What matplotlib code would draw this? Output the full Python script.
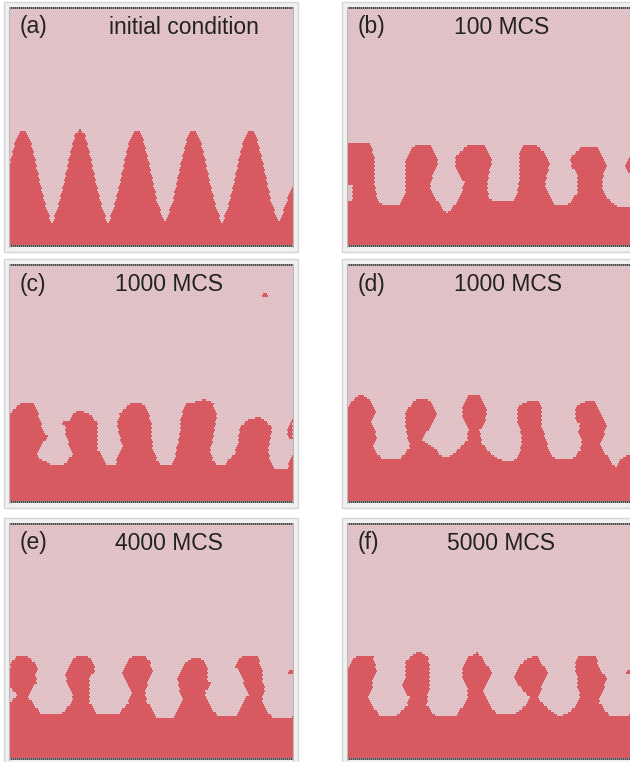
import numpy as np
import matplotlib
matplotlib.use("Agg")
import matplotlib.pyplot as plt
from matplotlib.path import Path
from matplotlib.colors import ListedColormap
from matplotlib.patches import Rectangle

plt.rcParams["font.family"] = ["Liberation Sans", "DejaVu Sans"]

panel_tags = ["(a)", "(b)", "(c)", "(d)", "(e)", "(f)"]
panel_titles = ["initial condition", "100 MCS", "1000 MCS", "1000 MCS", "4000 MCS", "5000 MCS"]

# Interface outlines (x along the wall, y above the substrate), lattice pixel units.
front_a = [(0, 79), (4, 97), (9, 113), (14, 118), (19, 113), (24, 97), (29, 74), (35, 47), (43, 23),
           (51, 47), (57, 74), (62, 97), (66, 113), (71, 118), (76, 113), (80, 97), (85, 74), (91, 47), (99, 23),
           (107, 47), (113, 74), (118, 97), (123, 113), (128, 118), (133, 113), (137, 97), (142, 74), (148, 47), (156, 23),
           (164, 47), (170, 74), (175, 97), (179, 113), (184, 118), (189, 113), (194, 97), (199, 74), (205, 47), (213, 23),
           (221, 47), (227, 74), (232, 97), (237, 113), (242, 118), (247, 113), (251, 97), (256, 74), (262, 47), (270, 23),
           (278, 47), (284, 63)]
islands_a = []

front_b = [(0, 45), (5, 46), (5, 61), (0, 62), (0, 103), (23, 103), (25, 99), (27, 90), (28, 80), (28, 60), (30, 50),
           (33, 45), (38, 41), (52, 41), (55, 47), (58, 55), (58, 77), (59, 87), (62, 95), (68, 102), (83, 102), (88, 94),
           (91, 84), (87, 75), (83, 62), (85, 54), (90, 47), (95, 39), (100, 33), (105, 39), (110, 45), (115, 54), (117, 65),
           (112, 72), (108, 80), (108, 90), (115, 97), (120, 102), (137, 102), (142, 94), (145, 84), (142, 74), (140, 60),
           (142, 50), (147, 45), (167, 45), (170, 54), (172, 67), (173, 80), (172, 94), (177, 102), (190, 102), (197, 94),
           (203, 82), (200, 74), (198, 60), (203, 50), (208, 42), (220, 42), (225, 47), (230, 54), (230, 74), (225, 80),
           (223, 89), (228, 94), (235, 100), (250, 100), (255, 92), (260, 82), (257, 74), (255, 60), (260, 50), (267, 42),
           (272, 40), (284, 40)]
islands_b = [[(284, 72), (280, 76), (278, 82), (281, 88), (284, 90)]]

front_c = [(0, 88), (5, 94), (11, 100), (24, 100), (28, 93), (31, 83), (34, 73), (39, 66), (34, 60), (29, 51), (29, 46),
           (35, 42), (44, 38), (54, 38), (60, 44), (64, 50), (59, 61), (56, 71), (58, 76), (53, 78), (53, 81), (60, 82),
           (64, 88), (66, 91), (76, 91), (84, 86), (88, 80), (89, 63), (89, 53), (93, 46), (98, 39), (106, 38), (109, 46),
           (114, 56), (111, 66), (108, 80), (111, 90), (119, 98), (123, 100), (133, 100), (139, 93), (143, 76), (143, 63),
           (144, 53), (148, 43), (151, 38), (163, 38), (166, 45), (168, 56), (171, 70), (171, 80), (174, 93), (178, 101),
           (183, 100), (196, 104), (204, 100), (208, 88), (206, 76), (203, 60), (201, 50), (204, 43), (208, 38), (216, 38),
           (219, 43), (226, 50), (229, 60), (231, 76), (239, 83), (249, 86), (256, 83), (263, 75), (261, 63), (259, 50),
           (263, 40), (266, 34), (278, 34), (281, 43), (284, 50)]
islands_c = [[(284, 62), (278, 66), (279, 74), (281, 81), (284, 83)],
             [(254, 205), (258, 205), (258, 209), (254, 209)]]

front_d = [(0, 90), (3, 100), (10, 107), (18, 107), (25, 101), (29, 93), (25, 81), (28, 75), (30, 63), (26, 56), (30, 50),
           (35, 43), (50, 43), (55, 46), (63, 56), (60, 68), (58, 80), (58, 90), (66, 101), (70, 104), (81, 104), (85, 100),
           (90, 90), (85, 80), (80, 71), (75, 63), (80, 60), (90, 53), (95, 46), (99, 45), (105, 48), (113, 55), (120, 63),
           (121, 73), (116, 83), (115, 96), (121, 107), (133, 107), (136, 103), (140, 93), (138, 81), (133, 73), (135, 60),
           (140, 53), (148, 46), (156, 43), (163, 41), (166, 41), (173, 50), (175, 63), (173, 75), (170, 83), (171, 96),
           (176, 100), (180, 101), (193, 101), (195, 93), (195, 76), (198, 66), (201, 56), (206, 46), (210, 44), (226, 44),
           (233, 53), (235, 63), (231, 71), (233, 78), (228, 85), (228, 93), (233, 100), (238, 101), (248, 101), (253, 93),
           (258, 83), (260, 76), (256, 66), (253, 60), (256, 53), (263, 43), (268, 36), (271, 38), (275, 45), (280, 48),
           (284, 48)]
islands_d = []

front_e = [(0, 57), (8, 65), (0, 73), (0, 90), (3, 98), (8, 104), (19, 104), (26, 97), (29, 90), (26, 85), (28, 78),
           (23, 72), (19, 63), (24, 57), (29, 50), (34, 45), (51, 45), (56, 50), (63, 58), (64, 65), (59, 73), (56, 85),
           (59, 93), (64, 102), (68, 104), (79, 104), (84, 98), (86, 90), (81, 82), (81, 67), (81, 57), (86, 50), (89, 45),
           (109, 45), (113, 50), (119, 57), (123, 67), (118, 75), (113, 87), (116, 93), (121, 102), (124, 104), (136, 104),
           (141, 98), (144, 87), (139, 77), (136, 68), (138, 58), (143, 52), (148, 43), (153, 41), (163, 41), (166, 45),
           (169, 52), (174, 60), (171, 68), (169, 78), (168, 83), (171, 87), (176, 97), (183, 102), (193, 101), (198, 95),
           (199, 87), (199, 78), (203, 77), (196, 68), (198, 60), (203, 52), (209, 43), (226, 43), (231, 50), (234, 57),
           (239, 65), (236, 73), (233, 83), (229, 92), (226, 93), (229, 100), (234, 104), (248, 104), (251, 97), (254, 90),
           (253, 80), (256, 70), (253, 60), (258, 50), (263, 42), (266, 41), (281, 41), (284, 45)]
islands_e = [[(280, 85), (284, 85), (284, 89), (280, 89)]]

front_f = [(0, 90), (6, 102), (13, 104), (26, 104), (28, 97), (30, 87), (26, 82), (26, 75), (23, 68), (21, 62), (26, 53),
           (33, 45), (36, 43), (48, 43), (53, 47), (60, 55), (63, 62), (58, 68), (55, 73), (58, 82), (58, 97), (63, 103),
           (71, 108), (76, 107), (81, 103), (83, 90), (83, 73), (81, 65), (80, 55), (85, 48), (90, 43), (108, 43), (113, 50),
           (120, 60), (121, 70), (116, 80), (115, 93), (120, 103), (130, 107), (135, 103), (140, 95), (145, 87), (140, 77),
           (136, 70), (140, 60), (145, 52), (150, 45), (166, 45), (173, 50), (180, 57), (183, 62), (173, 73), (166, 83),
           (171, 93), (178, 100), (185, 103), (191, 103), (196, 95), (201, 87), (196, 77), (193, 67), (190, 62), (196, 57),
           (203, 50), (210, 45), (215, 44), (220, 47), (225, 50), (230, 57), (233, 63), (231, 72), (230, 83), (228, 93),
           (230, 103), (235, 104), (248, 104), (251, 97), (256, 87), (260, 80), (256, 70), (253, 63), (253, 57), (258, 50),
           (263, 45), (270, 43), (280, 44), (284, 46)]
islands_f = [[(280, 85), (284, 85), (284, 89), (280, 89)]]

fronts = [front_a, front_b, front_c, front_d, front_e, front_f]
islands = [islands_a, islands_b, islands_c, islands_d, islands_e, islands_f]
title_x = [175, 155, 160, 161, 160, 154]

W = 284
col_left = [9, 347]
row_top = [7, 264, 523]
row_height = [240, 239, 237]
FIG_W, FIG_H = 630, 762

lattice_cmap = ListedColormap(["#E4C5CA", "#D8B7BC", "#DB5C63", "#CD5259", "#4a4a4a", "#8e8e8e"])


def lattice_image(front, extra, H):
    py, px = np.mgrid[0:H, 0:W]
    row = py // 2
    shift = row % 2
    col = (px - shift) // 2
    cx = 2 * col + 1 + shift
    cy = 2 * row + 1
    pts = np.column_stack([cx.ravel(), cy.ravel()]).astype(float)
    occ = np.zeros(pts.shape[0], dtype=bool)
    polys = [[(0, -2)] + list(front) + [(W + 2, front[-1][1]), (W + 2, -2)]] + list(extra)
    for poly in polys:
        occ |= Path(poly).contains_points(pts)
    occ = occ.reshape(H, W)
    site_edge = (((px - shift) % 2) == 1) & ((py % 2) == 1)
    img = occ.astype(int) * 2 + site_edge.astype(int)
    # hard walls along top and bottom
    wall = np.where((px % 2) == 0, 4, 5)
    img[:2] = wall[:2]
    img[-2:] = wall[-2:]
    return img


fig = plt.figure(figsize=(FIG_W / 100, FIG_H / 100), dpi=100)
fig.patch.set_facecolor("white")

for k in range(6):
    r, c = divmod(k, 2)
    H = row_height[r]
    left = col_left[c]
    top = row_top[r]
    # light grey frame around each panel
    pad = 5
    frame = Rectangle(((left - pad) / FIG_W, 1 - (top + H + pad) / FIG_H),
                      (W + 2 * pad) / FIG_W, (H + 2 * pad) / FIG_H,
                      transform=fig.transFigure, facecolor="#f1f1f1",
                      edgecolor="#d6d6d6", linewidth=1.0, zorder=-5)
    fig.add_artist(frame)
    ax = fig.add_axes([left / FIG_W, 1 - (top + H) / FIG_H, W / FIG_W, H / FIG_H])
    ax.set_zorder(1)
    img = lattice_image(fronts[k], islands[k], H)
    ax.imshow(img, cmap=lattice_cmap, vmin=-0.5, vmax=5.5, origin="lower",
              extent=(0, W, 0, H), interpolation="nearest", aspect="auto")
    ax.set_xlim(0, W)
    ax.set_ylim(0, H)
    ax.set_xticks([])
    ax.set_yticks([])
    for side in ("left", "right"):
        ax.spines[side].set_color("#b8b8b8")
        ax.spines[side].set_linewidth(0.8)
    for side in ("top", "bottom"):
        ax.spines[side].set_visible(False)
    ax.text(11, H - 20, panel_tags[k], fontsize=16.5, color="#222222", ha="left", va="center")
    ax.text(title_x[k], H - 20, panel_titles[k], fontsize=16.5, color="#222222", ha="center", va="center")

fig.savefig("out.png", dpi=100)
